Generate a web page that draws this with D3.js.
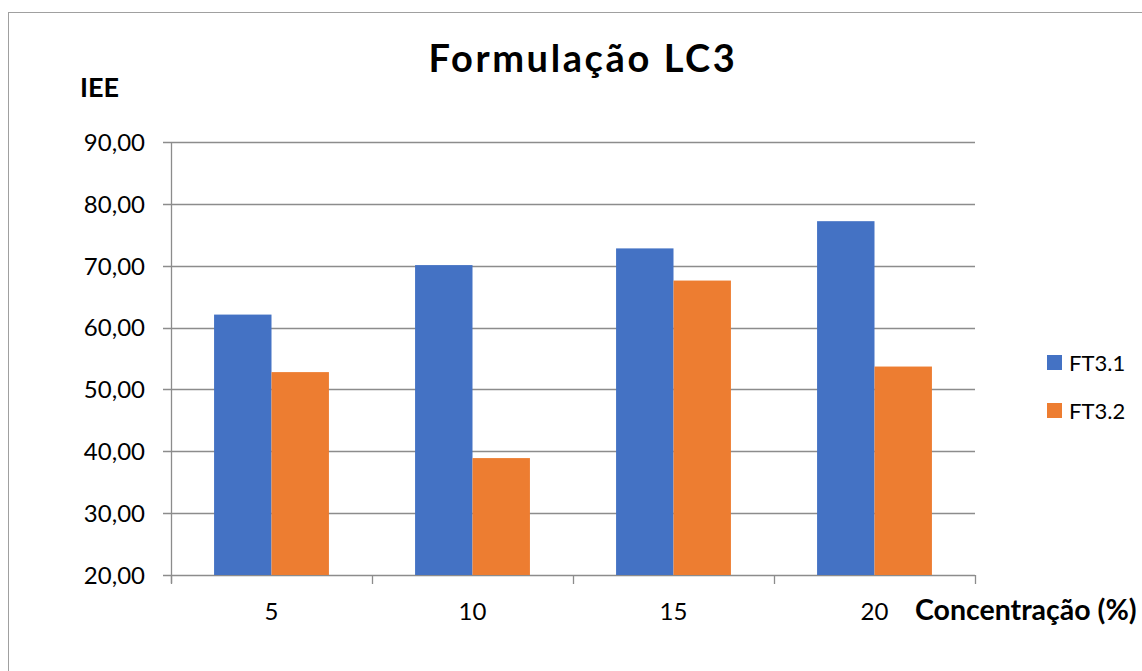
<!DOCTYPE html>
<html>
<head>
<meta charset="utf-8">
<script src="https://cdn.jsdelivr.net/npm/d3@7"></script>
<style>
  html, body { margin: 0; padding: 0; background: #fff; }
  svg { display: block; font-family: Lato, "Open Sans", sans-serif; }
</style>
</head>
<body>
<svg id="chart" width="1142" height="671"></svg>
<script>
// Concentrations (category axis) and series values
const categories = ["5", "10", "15", "20"];
const seriesNames = ["FT3.1", "FT3.2"];
const ft31 = [62.1, 70.1, 72.8, 77.2];
const ft32 = [52.8, 38.9, 67.6, 53.7];
const yTicks = [20, 30, 40, 50, 60, 70, 80, 90];

const colors = ["#4472C4", "#ED7D31"];
const seriesValues = [ft31, ft32];

const svg = d3.select("#chart");

// outer chart frame
svg.append("rect")
  .attr("x", 8.5).attr("y", 12.5)
  .attr("width", 1160).attr("height", 700)
  .attr("fill", "#fff").attr("stroke", "#a0a0a0").attr("stroke-width", 1);

const plot = { left: 171, right: 975, top: 142, bottom: 575 };

const x = d3.scaleBand().domain(categories).range([plot.left, plot.right]).paddingInner(0).paddingOuter(0);
// two bars per group with a gap of 1.5 bar widths between groups
const bw = x.bandwidth() / 3.5;
const x1 = d3.scaleBand().domain(seriesNames).range([0, bw * 2]);

const y = d3.scaleLinear().domain([20, 90]).range([plot.bottom, plot.top]);

// gridlines
svg.append("g")
  .selectAll("line")
  .data(yTicks)
  .join("line")
  .attr("x1", plot.left - 8).attr("x2", plot.right)
  .attr("y1", d => Math.round(y(d)) + 0.5).attr("y2", d => Math.round(y(d)) + 0.5)
  .attr("stroke", "#8c8c8c").attr("stroke-width", 1.3);

// bars
const rows = categories.map((c, i) => ({ cat: c, vals: seriesNames.map((s, j) => ({ s, v: seriesValues[j][i], j })) }));
svg.append("g")
  .selectAll("g")
  .data(rows)
  .join("g")
  .attr("transform", d => `translate(${x(d.cat) + bw * 0.75},0)`)
  .selectAll("rect")
  .data(d => d.vals)
  .join("rect")
  .attr("x", d => x1(d.s))
  .attr("width", x1.bandwidth())
  .attr("y", d => y(d.v))
  .attr("height", d => y(20) - y(d.v))
  .attr("fill", d => colors[d.j]);

// y axis
const yAxis = d3.axisLeft(y).tickValues(yTicks).tickSize(0).tickPadding(26)
  .tickFormat(d => d3.format(".2f")(d).replace(".", ","));
const gy = svg.append("g").attr("transform", `translate(${plot.left},0)`).call(yAxis);
gy.select(".domain").remove();
gy.selectAll("text").attr("font-size", 24).attr("fill", "#000").attr("font-family", "Lato, sans-serif").attr("dy", "0.35em");
svg.append("line")
  .attr("x1", plot.left + 0.5).attr("x2", plot.left + 0.5)
  .attr("y1", plot.top).attr("y2", plot.bottom + 8)
  .attr("stroke", "#8c8c8c").attr("stroke-width", 1.3);

// x axis
const xAxis = d3.axisBottom(x).tickSize(0).tickPadding(28);
const gx = svg.append("g").attr("transform", `translate(0,${plot.bottom})`).call(xAxis);
gx.select(".domain").remove();
gx.selectAll("text").attr("font-size", 24).attr("fill", "#000").attr("font-family", "Lato, sans-serif");
// category boundary ticks
const bounds = categories.map(c => x(c)).concat([plot.right]);
svg.append("g").selectAll("line").data(bounds).join("line")
  .attr("x1", d => Math.round(d) + 0.5).attr("x2", d => Math.round(d) + 0.5)
  .attr("y1", plot.bottom).attr("y2", plot.bottom + 9)
  .attr("stroke", "#8c8c8c").attr("stroke-width", 1.3);

// titles
svg.append("text").attr("x", 583).attr("y", 72).attr("text-anchor", "middle")
  .attr("font-size", 38).attr("font-weight", "bold").attr("letter-spacing", 2.6)
  .text("Formulação LC3");
svg.append("text").attr("x", 80).attr("y", 97)
  .attr("font-size", 27).attr("font-weight", "bold").text("IEE");
svg.append("text").attr("x", 915).attr("y", 620)
  .attr("font-size", 28.5).attr("font-weight", "bold").text("Concentração (%)");

// legend
const lg = svg.append("g").attr("transform", "translate(1047,355)");
const items = lg.selectAll("g").data(seriesNames).join("g")
  .attr("transform", (d, i) => `translate(0,${i * 48})`);
items.append("rect").attr("width", 15).attr("height", 15).attr("fill", (d, i) => colors[i]);
items.append("text").attr("x", 22).attr("y", 8).attr("dy", "0.36em")
  .attr("font-size", 22).text(d => d);
</script>
</body>
</html>
